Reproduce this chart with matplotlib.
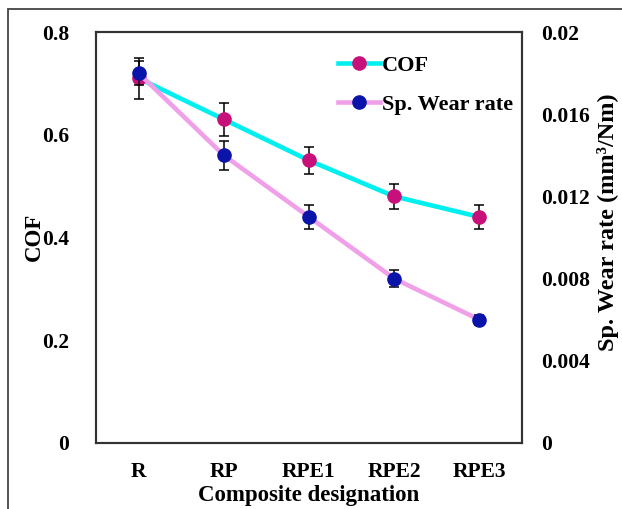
import matplotlib
matplotlib.use("Agg")
import matplotlib.pyplot as plt
from matplotlib.patches import Rectangle
from matplotlib.lines import Line2D

plt.rcParams['font.family'] = ['Liberation Serif', 'DejaVu Serif']
plt.rcParams['font.weight'] = 'bold'

categories = ["R", "RP", "RPE1", "RPE2", "RPE3"]
cof = [0.71, 0.63, 0.55, 0.48, 0.44]
cof_err = [0.04, 0.032, 0.027, 0.025, 0.024]
wear = [0.018, 0.014, 0.011, 0.008, 0.006]
wear_err = [0.0006, 0.0007, 0.0006, 0.0004, 0.00025]
cof_ticks = [0, 0.2, 0.4, 0.6, 0.8]
cof_ticklabels = ["0", "0.2", "0.4", "0.6", "0.8"]
wear_ticks = [0, 0.004, 0.008, 0.012, 0.016, 0.02]
wear_ticklabels = ["0", "0.004", "0.008", "0.012", "0.016", "0.02"]

CYAN = '#00F0F0'
MAGENTA = '#C8107A'
PINK = '#F0A0E8'
BLUE = '#0A14A8'

fig = plt.figure(figsize=(6.22, 5.09), dpi=100)
# outer frame (partly cropped)
fig.patches.append(Rectangle((8/622, -0.1), 1.2, (509-9)/509 + 0.1,
                             transform=fig.transFigure, fill=False,
                             edgecolor='#444444', linewidth=1.3))

ax = fig.add_axes([96/622, (509-443)/509, 426/622, 411/509])
x = list(range(len(categories)))
tfs = 15.5
lfs = 16.5
ms = 9.5
lw = 3.3

ax.plot(x, cof, color=CYAN, lw=lw, zorder=2)
ax.errorbar(x, cof, yerr=cof_err, fmt='none', ecolor='black', elinewidth=1.1,
            capsize=3.7, capthick=1.1, zorder=3)
ax.plot(x, cof, 'o', color=MAGENTA, ms=ms, zorder=4)
ax.set_xlim(-0.5, 4.5)
ax.set_ylim(0, 0.8)
ax.set_yticks(cof_ticks)
ax.set_yticklabels(cof_ticklabels)
ax.set_xticks(x)
ax.set_xticklabels(categories)
ax.tick_params(axis='both', length=0, labelsize=tfs)
ax.tick_params(axis='y', pad=19.5)
ax.tick_params(axis='x', pad=13.5)
ax.set_xlabel("Composite designation", fontsize=lfs, fontweight='bold', labelpad=2.5)
for s in ax.spines.values():
    s.set_color('#333333')
    s.set_linewidth(1.5)

ax2 = ax.twinx()
ax2.plot(x, wear, color=PINK, lw=lw, zorder=2)
ax2.errorbar(x, wear, yerr=wear_err, fmt='none', ecolor='black', elinewidth=1.1,
             capsize=3.7, capthick=1.1, zorder=3)
ax2.plot(x, wear, 'o', color=BLUE, ms=ms, zorder=4)
ax2.set_ylim(0, 0.02)
ax2.set_yticks(wear_ticks)
ax2.set_yticklabels(wear_ticklabels)
ax2.tick_params(axis='y', length=0, labelsize=tfs, pad=13.7)
for s in ax2.spines.values():
    s.set_color('#333333')
    s.set_linewidth(1.5)

fig.text(34/622, 1 - 237/509, "COF", rotation=90, ha='center', va='center',
         fontsize=lfs, fontweight='bold')
fig.text(608/622, 1 - 222/509, "Sp. Wear rate (mm³/Nm)", rotation=90,
         ha='center', va='center', fontsize=17.5, fontweight='bold')

handles = [
    Line2D([], [], color=CYAN, lw=lw, marker='o', ms=ms,
           markerfacecolor=MAGENTA, markeredgecolor=MAGENTA),
    Line2D([], [], color=PINK, lw=lw, marker='o', ms=ms,
           markerfacecolor=BLUE, markeredgecolor=BLUE),
]
leg = ax2.legend(handles, ["COF", "Sp. Wear rate"], loc='upper right',
                 bbox_to_anchor=(1.0, 0.965), frameon=False,
                 handlelength=1.9, handletextpad=0.1, labelspacing=0.85,
                 borderaxespad=0.0,
                 prop={'weight': 'bold', 'size': 16})

fig.savefig("out.png", dpi=100)
